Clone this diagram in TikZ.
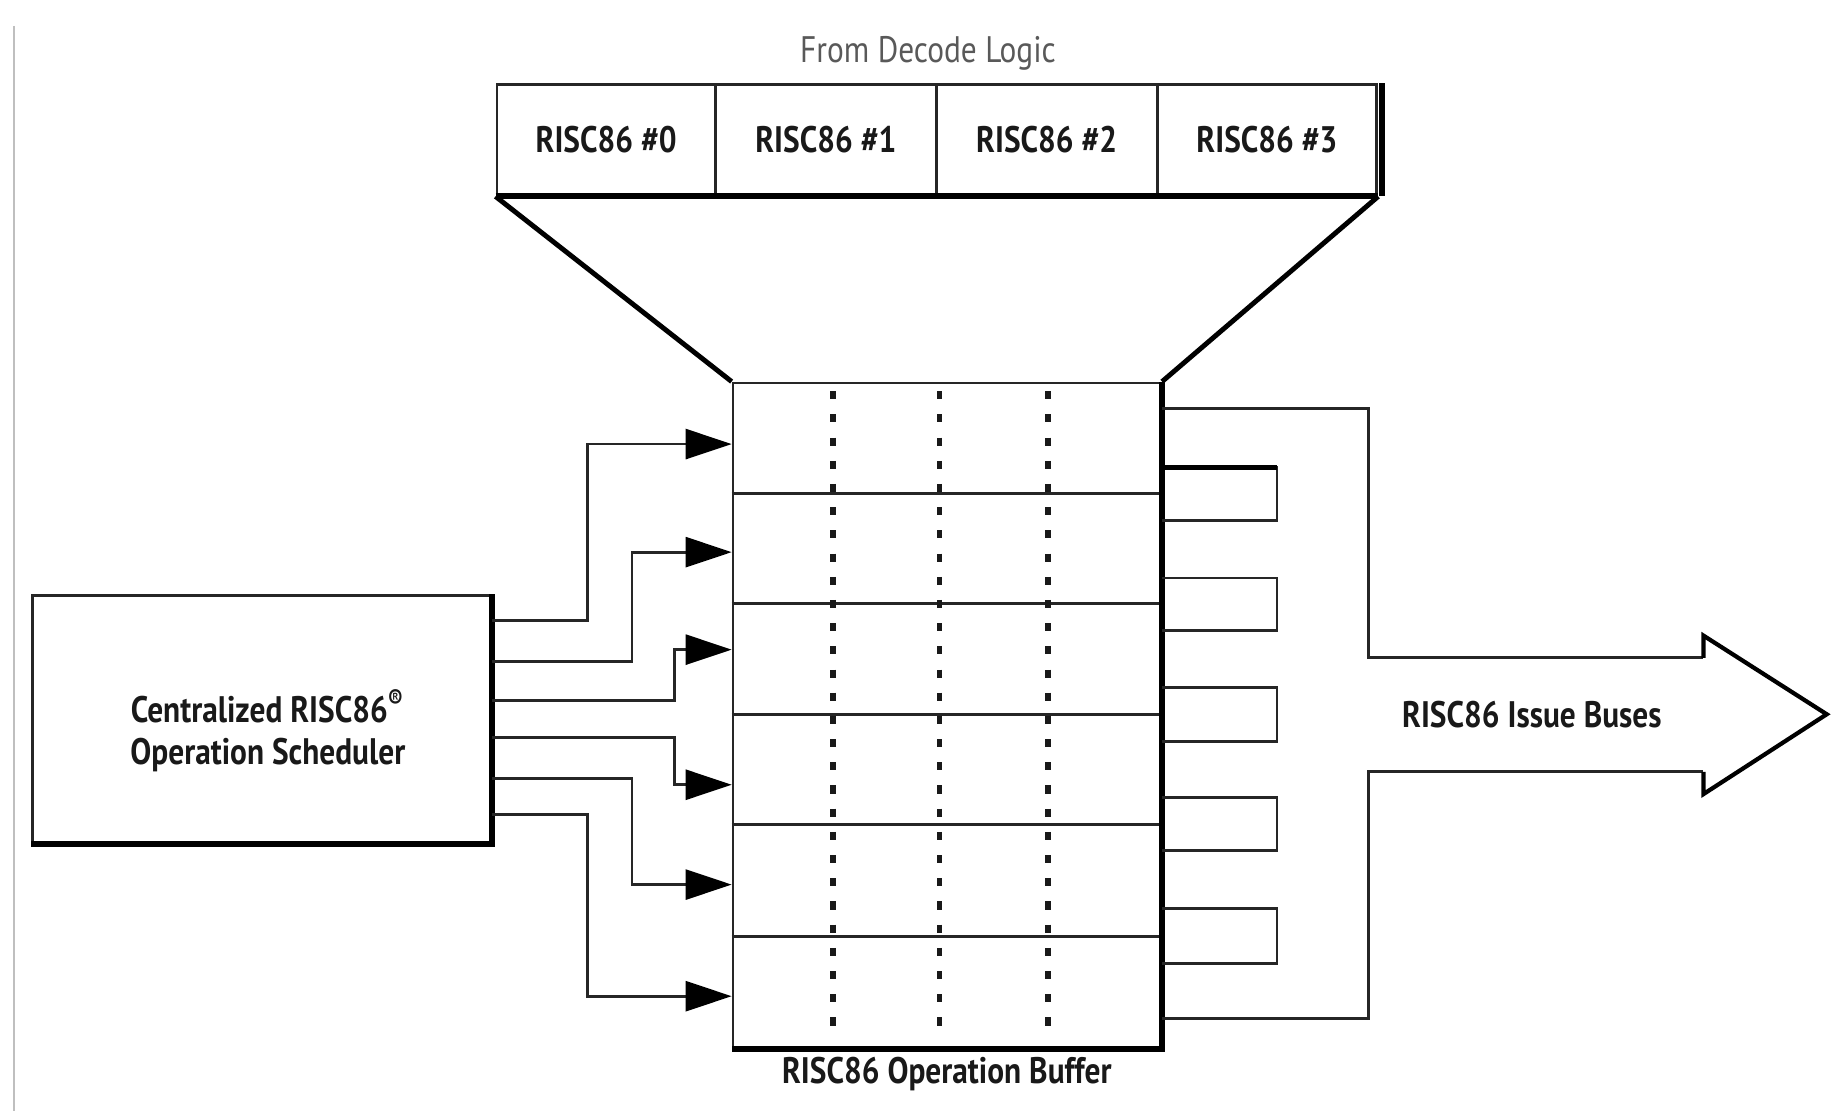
\documentclass[tikz,border=0pt]{standalone}
\usepackage{fontspec}
\setmainfont{PT Sans}
\newfontfamily\lblfam[FakeStretch=0.85]{PT Sans}
\newcommand\lblfont{\lblfam\bfseries\fontsize{10.5}{11.7}\selectfont}
\newcommand\decfont{\lblfam\fontsize{10.5}{11.7}\selectfont}
\usetikzlibrary{arrows.meta,fit}
\begin{document}
\begin{tikzpicture}[x=0.011747cm,y=-0.011747cm,
  ln/.style={line width=0.8pt,draw=black!85},
  heavy/.style={line width=1.7pt,draw=black},
  lbl/.style={font=\lblfont,text=black!90},
  conn/.style={ln,-{Triangle[length=0.46cm,width=0.30cm,color=black]}},
  dots/.style={line width=1.5pt,dash pattern=on 2.3pt off 4.3pt,draw=black!90},
  box/.style={draw=black!85,line width=0.8pt,inner sep=0pt}
]
\useasboundingbox (0,0) rectangle (1568,946);
\draw[black!25,line width=0.5pt] (12,22) -- (12,946);

\node[font=\decfont,text=black!65] (dec) at (790,45) {From Decode Logic};

% decode cells
\node[box,fit={(423,72) (609,166)}] (c0) {};
\node[box,fit={(609,72) (797,166)}] (c1) {};
\node[box,fit={(797,72) (985,166)}] (c2) {};
\node[box,fit={(985,72) (1172,166)}] (c3) {};
\node[lbl] (t0) at (c0.center) {RISC86 \#0};
\node[lbl] (t1) at (c1.center) {RISC86 \#1};
\node[lbl] (t2) at (c2.center) {RISC86 \#2};
\node[lbl] (t3) at (c3.center) {RISC86 \#3};
\draw[heavy] (c0.south west) -- (c3.south east);
\draw[heavy] ([xshift=1pt]c3.north east) -- ([xshift=1pt]c3.south east);

% operation buffer
\node[box,fit={(624,326) (988,892)}] (buf) {};
\foreach \r in {420,514,608,702,797}
  \draw[ln] (buf.west |- 0,\r) -- (buf.east |- 0,\r);
\foreach \c in {709,800,892}
  \draw[dots] (\c,333) -- (\c,884);
\draw[heavy] (buf.north east) -- (buf.south east) -- (buf.south west);
\node[lbl] (bufl) at (806,914) {RISC86 Operation Buffer};

% funnel
\draw[line width=1.4pt] (c0.south west) -- (buf.north west);
\draw[line width=1.4pt] (c3.south east) -- (buf.north east);

% scheduler
\node[box,fit={(28,507) (418,717)}] (sch) {};
\draw[heavy] (sch.north east) -- (sch.south east) -- (sch.south west);
\node[lbl,align=center] (schl) at (228,622) {Centralized RISC86\textsuperscript{®}\\Operation Scheduler};

% scheduler -> buffer
\draw[conn] (sch.east |- 0,528) -| (500,378) -- (buf.west |- 0,378);
\draw[conn] (sch.east |- 0,563) -| (538,470) -- (buf.west |- 0,470);
\draw[conn] (sch.east |- 0,596) -| (574,553) -- (buf.west |- 0,553);
\draw[conn] (sch.east |- 0,628) -| (574,668) -- (buf.west |- 0,668);
\draw[conn] (sch.east |- 0,663) -| (538,753) -- (buf.west |- 0,753);
\draw[conn] (sch.east |- 0,693) -| (500,848) -- (buf.west |- 0,848);

% issue buses
\draw[ln] (buf.east |- 0,348) -- (1165,348) -- (1165,560) -- (1450,560);
\draw[ln] (1450,657) -- (1165,657) -- (1165,867) -- (buf.east |- 0,867);
\draw[line width=1.2pt,line join=miter] (1450,560) -- (1450,541) -- (1555,608) -- (1450,676) -- (1450,657);
\foreach \a/\b in {398/443,492/537,585/631,679/724,773/820}
  \draw[ln] (buf.east |- 0,\a) -- (1087,\a) -- (1087,\b) -- (buf.east |- 0,\b);
\draw[line width=1.3pt] (buf.east |- 0,398) -- (1087,398);
\node[lbl] (busl) at (1304,608) {RISC86 Issue Buses};
\end{tikzpicture}
\end{document}
